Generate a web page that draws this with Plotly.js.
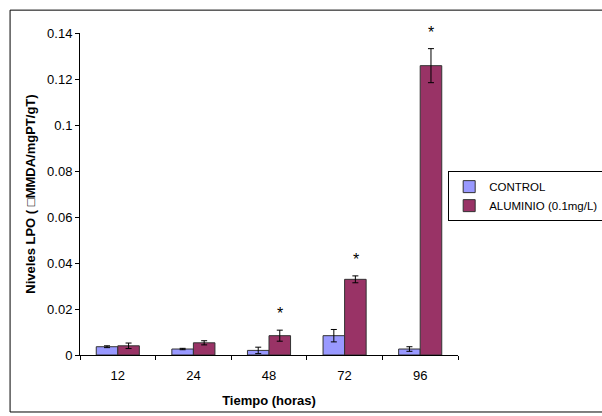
<!DOCTYPE html>
<html><head><meta charset="utf-8">
<script src="https://cdn.plot.ly/plotly-3.0.1.min.js"></script>
<style>html,body{margin:0;padding:0;background:#fff}</style>
</head><body><div id="chart" style="width:602px;height:416px"></div>
<script>
const categories = ["12", "24", "48", "72", "96"];
const controlValues = [0.0036, 0.0026, 0.0020, 0.0084, 0.0026];
const controlErrors = [0.0004, 0.0003, 0.0014, 0.0027, 0.0010];
const aluminioValues = [0.0040, 0.0053, 0.0084, 0.0329, 0.1258];
const aluminioErrors = [0.0012, 0.0009, 0.0024, 0.0015, 0.0074];
const significant = [false, false, true, true, true];
const seriesNames = ["CONTROL", "ALUMINIO (0.1mg/L)"];

const font = "Liberation Sans, Arial, sans-serif";
const traces = [
  {type: "bar", name: seriesNames[0], x: categories, y: controlValues,
   marker: {color: "#9999FF", line: {color: "#333333", width: 1}},
   error_y: {type: "data", array: controlErrors, visible: true, color: "#000", thickness: 1, width: 3}},
  {type: "bar", name: seriesNames[1], x: categories, y: aluminioValues,
   marker: {color: "#993366", line: {color: "#333333", width: 1}},
   error_y: {type: "data", array: aluminioErrors, visible: true, color: "#000", thickness: 1, width: 3}}
];
const annotations = [];
categories.forEach((c, i) => {
  if (significant[i]) {
    annotations.push({x: i, y: aluminioValues[i] + aluminioErrors[i], xref: "x", yref: "y",
      text: "*", showarrow: false, xshift: 11, yanchor: "bottom", yshift: 6,
      font: {family: font, size: 16, color: "#000"}});
  }
});
const layout = {
  width: 602, height: 416,
  margin: {l: 80, r: 144, t: 33, b: 61, autoexpand: false},
  paper_bgcolor: "#fff", plot_bgcolor: "#fff",
  barmode: "group", bargap: 0.43, bargroupgap: 0,
  font: {family: font, size: 13, color: "#000"},
  showlegend: true,
  legend: {x: 0.974, y: 0.571, xanchor: "left", yanchor: "top",
    bordercolor: "#000", borderwidth: 1, bgcolor: "#fff",
    font: {family: font, size: 11.5, color: "#000"}, tracegroupgap: 0},
  xaxis: {type: "category", range: [-0.5, 4.5], autorange: false,
    showline: true, linecolor: "#000", linewidth: 1,
    ticks: "outside", ticklen: 4, tickcolor: "#000", tickson: "boundaries",
    ticklabelstandoff: 8,
    showgrid: false, zeroline: false,
    tickfont: {family: font, size: 13},
    title: {text: "<b>Tiempo (horas)</b>", font: {family: font, size: 13}, standoff: 14}},
  yaxis: {range: [0, 0.14], autorange: false, dtick: 0.02, showline: true, linecolor: "#000", linewidth: 1,
    ticks: "outside", ticklen: 4, tickcolor: "#000", showgrid: false, zeroline: false,
    tickfont: {family: font, size: 13},
    title: {text: "<b>Niveles LPO ( \u25A1MMDA/mgPT/gT)</b>", font: {family: font, size: 13}, standoff: 8}},
  annotations: annotations,
  shapes: [{type: "rect", xref: "paper", yref: "paper", x0: -0.185, x1: 1.6, y0: -0.177, y1: 1.071,
    line: {color: "#000", width: 1}, fillcolor: "rgba(0,0,0,0)", layer: "below"}]
};
Plotly.newPlot("chart", traces, layout, {displayModeBar: false, staticPlot: true});
</script></body></html>
